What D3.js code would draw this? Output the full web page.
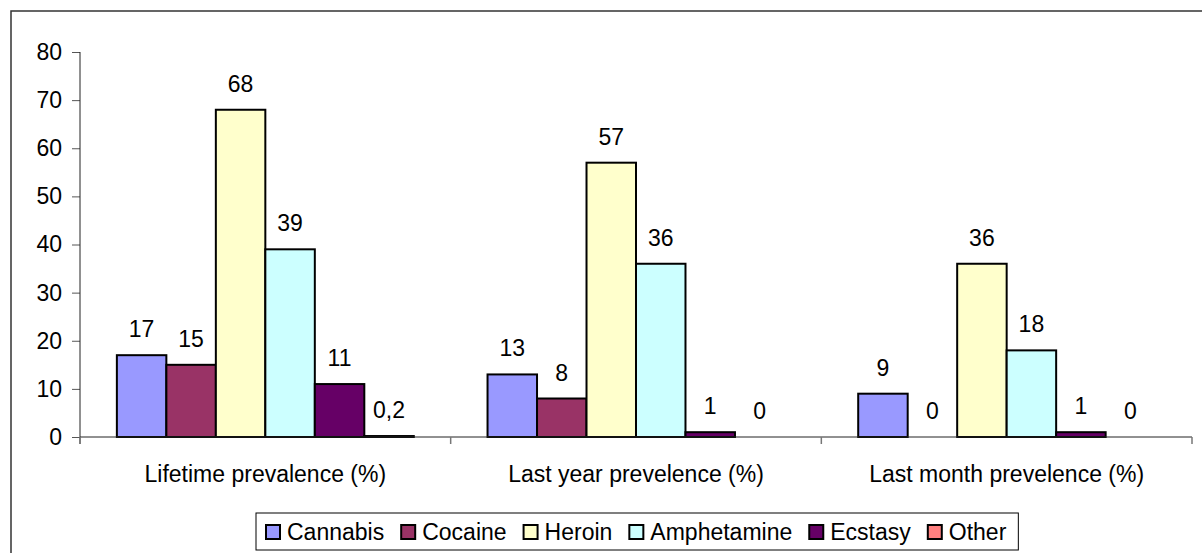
<!DOCTYPE html>
<html><head><meta charset="utf-8">
<script src="https://cdn.jsdelivr.net/npm/d3@7"></script>
<style>body{margin:0;background:#fff}svg{display:block;font-family:"Liberation Sans",Arial,sans-serif}</style>
</head><body><svg id="c" width="1202" height="553"></svg>
<script>
const categories = ["Lifetime prevalence (%)", "Last year prevelence (%)", "Last month prevelence (%)"];
const seriesNames = ["Cannabis", "Cocaine", "Heroin", "Amphetamine", "Ecstasy", "Other"];
const seriesColors = ["#9999FF", "#993366", "#FFFFCC", "#CCFFFF", "#660066", "#FF8080"];
const cannabis = [17, 13, 9];
const cocaine = [15, 8, 0];
const heroin = [68, 57, 36];
const amphetamine = [39, 36, 18];
const ecstasy = [11, 1, 1];
const other = [0.2, 0, 0];
const yTicks = [0, 10, 20, 30, 40, 50, 60, 70, 80];

const seriesValues = [cannabis, cocaine, heroin, amphetamine, ecstasy, other];
const svg = d3.select("#c");
const fs = 23;
const fmt = v => String(v).replace(".", ",");

// chart border
svg.append("rect").attr("x", 11).attr("y", 11).attr("width", 1400).attr("height", 800)
  .attr("fill", "none").attr("stroke", "#333").attr("stroke-width", 1.5);

const x0 = d3.scaleBand().domain(categories).range([80, 1192]).paddingInner(0).paddingOuter(0);
const x1 = d3.scaleBand().domain(seriesNames).range([0, x0.bandwidth()]).paddingOuter(0.745).paddingInner(0);
const y = d3.scaleLinear().domain([0, 80]).range([437, 52]);

// y axis
const ya = svg.append("g").attr("transform", "translate(80,0)")
  .call(d3.axisLeft(y).tickValues(yTicks).tickSize(8).tickPadding(10).tickFormat(d => d));
ya.select(".domain").remove();
ya.selectAll(".tick line").attr("stroke", "#555");
ya.selectAll("text").attr("font-size", fs).attr("font-family", "Liberation Sans, Arial, sans-serif").attr("fill", "#000");
svg.append("line").attr("x1", 80).attr("x2", 80).attr("y1", y(80)).attr("y2", 444).attr("stroke", "#222").attr("stroke-width", 1);

// groups
const groups = svg.append("g").selectAll("g").data(categories).join("g")
  .attr("transform", d => `translate(${x0(d)},0)`);
groups.each(function(cat, ci) {
  const g = d3.select(this);
  seriesNames.forEach((s, si) => {
    const v = seriesValues[si][ci];
    if (v > 0) {
      g.append("rect").attr("x", x1(s)).attr("y", y(v)).attr("width", x1.bandwidth()).attr("height", y(0) - y(v))
        .attr("fill", seriesColors[si]).attr("stroke", "#000").attr("stroke-width", 2);
    }
    g.append("text").attr("x", x1(s) + x1.bandwidth() / 2).attr("y", y(v) - 18)
      .attr("text-anchor", "middle").attr("font-size", fs).text(fmt(v));
  });
});

// x axis
svg.append("line").attr("x1", 80).attr("x2", 1192).attr("y1", 437).attr("y2", 437).attr("stroke", "#222").attr("stroke-width", 1);
const bounds = categories.map(c => x0(c) + x0.bandwidth()).concat([x0(categories[0])]);
bounds.forEach(b => {
  svg.append("line").attr("x1", b).attr("x2", b).attr("y1", 437).attr("y2", 444).attr("stroke", "#777").attr("stroke-width", 1.5);
});
svg.append("g").selectAll("text").data(categories).join("text")
  .attr("x", d => x0(d) + x0.bandwidth() / 2).attr("y", 482).attr("text-anchor", "middle")
  .attr("font-size", fs).text(d => d);

// legend
const lg = svg.append("g");
const box = lg.append("rect").attr("y", 513).attr("height", 37).attr("fill", "#fff").attr("stroke", "#000").attr("stroke-width", 1);
let cx = 265;
seriesNames.forEach((s, i) => {
  lg.append("rect").attr("x", cx + 1).attr("y", 525).attr("width", 14).attr("height", 14)
    .attr("fill", seriesColors[i]).attr("stroke", "#000").attr("stroke-width", 2);
  const t = lg.append("text").attr("x", cx + 22).attr("y", 540).attr("font-size", fs).text(s);
  cx = cx + 22 + t.node().getComputedTextLength() + 16;
});
box.attr("x", 256).attr("width", cx - 16 + 12 - 256);
</script></body></html>
